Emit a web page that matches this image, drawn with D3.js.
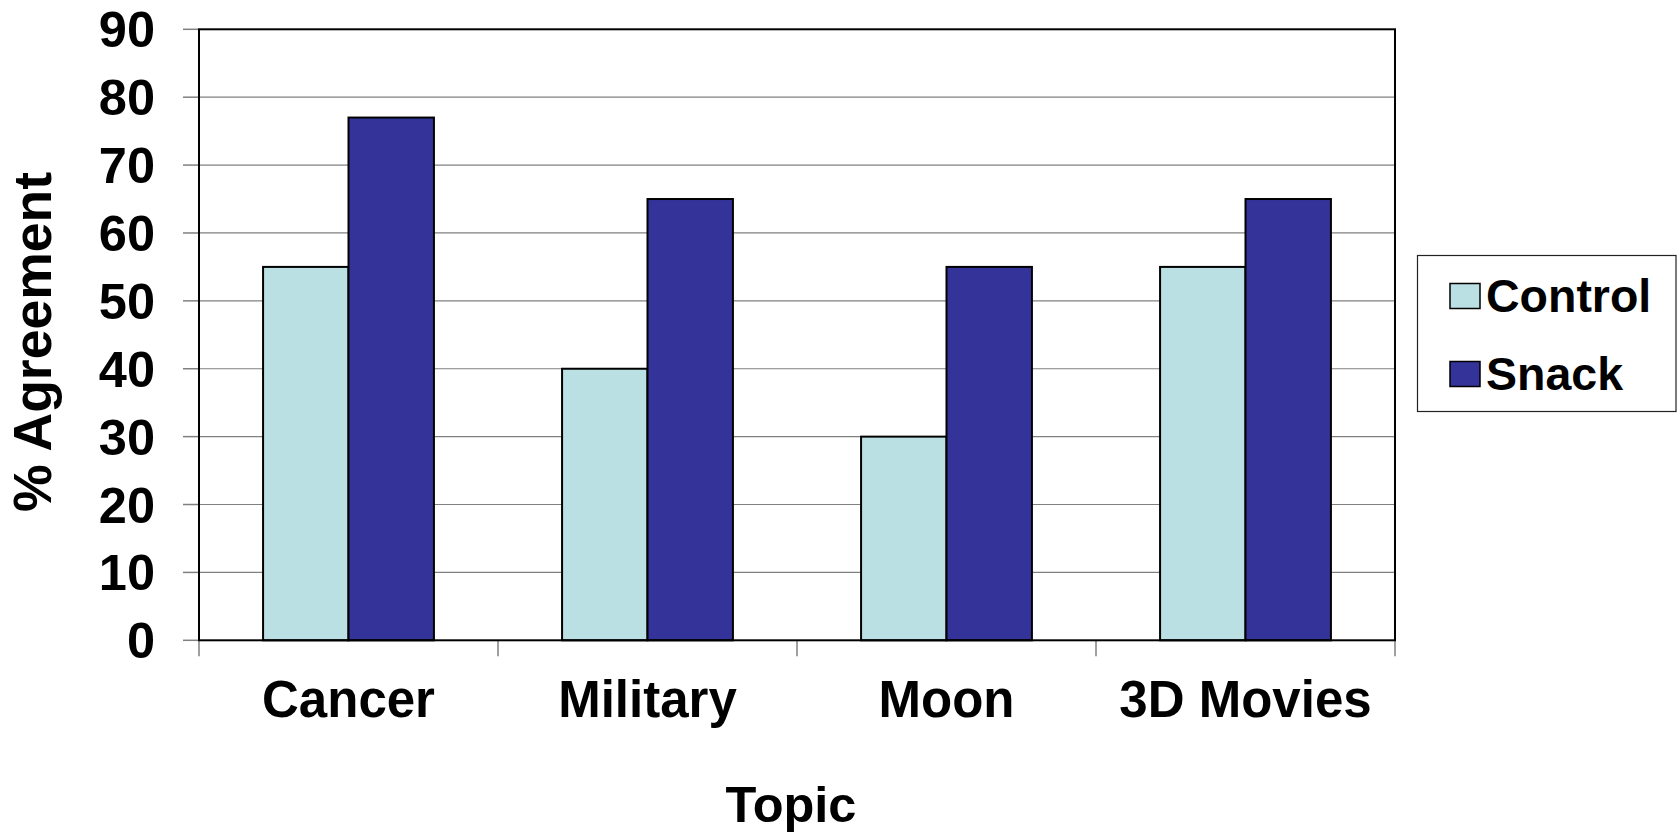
<!DOCTYPE html>
<html>
<head>
<meta charset="utf-8">
<script src="https://cdn.jsdelivr.net/npm/d3@7/dist/d3.min.js"></script>
<style>
  html, body { margin: 0; padding: 0; background: #fff; }
  svg { display: block; }
  text { font-family: "Liberation Sans", Arial, Helvetica, sans-serif; font-weight: bold; fill: #000; }
</style>
</head>
<body>
<svg id="chart" width="1678" height="832"></svg>
<script>
const categories = ["Cancer", "Military", "Moon", "3D Movies"];
const seriesNames = ["Control", "Snack"];
const controlValues = [55, 40, 30, 55];
const snackValues = [77, 65, 55, 65];
const yTicks = [0, 10, 20, 30, 40, 50, 60, 70, 80, 90];
const colors = { Control: "#BBE0E3", Snack: "#333399" };

const seriesValues = { Control: controlValues, Snack: snackValues };

const svg = d3.select("#chart");
const plot = { left: 199, right: 1395, top: 29.3, bottom: 640.3 };

const x0 = d3.scaleBand().domain(categories).range([plot.left, plot.right]).padding(0);
const bw = x0.bandwidth();
const gapOffset = bw * 0.75 / 3.5;
const x1 = d3.scaleBand().domain(seriesNames).range([gapOffset, bw - gapOffset]).padding(0);
const y = d3.scaleLinear().domain([0, 90]).range([plot.bottom, plot.top]);

// gridlines
svg.append("g").selectAll("line").data(yTicks.filter(d => d > 0 && d < 90)).join("line")
  .attr("x1", plot.left).attr("x2", plot.right)
  .attr("y1", d => y(d)).attr("y2", d => y(d))
  .attr("stroke", "#808080").attr("stroke-width", 1.2);

// y-axis tick marks
svg.append("g").selectAll("line").data(yTicks).join("line")
  .attr("x1", plot.left - 16).attr("x2", plot.left)
  .attr("y1", d => y(d)).attr("y2", d => y(d))
  .attr("stroke", "#808080").attr("stroke-width", 1.5);

// x-axis tick marks at category boundaries
const boundaries = categories.map(c => x0(c)).concat([plot.right]);
svg.append("g").selectAll("line").data(boundaries).join("line")
  .attr("x1", d => d).attr("x2", d => d)
  .attr("y1", plot.bottom).attr("y2", plot.bottom + 16)
  .attr("stroke", "#808080").attr("stroke-width", 1.5);

// bars
const groups = svg.append("g").selectAll("g").data(categories).join("g")
  .attr("transform", c => `translate(${x0(c)},0)`);
groups.selectAll("rect")
  .data((c, i) => seriesNames.map(s => ({ s, v: seriesValues[s][i] })))
  .join("rect")
  .attr("x", d => x1(d.s))
  .attr("width", x1.bandwidth())
  .attr("y", d => y(d.v))
  .attr("height", d => y(0) - y(d.v))
  .attr("fill", d => colors[d.s])
  .attr("stroke", "#000").attr("stroke-width", 2);

// plot frame
svg.append("rect")
  .attr("x", plot.left).attr("y", plot.top)
  .attr("width", plot.right - plot.left).attr("height", plot.bottom - plot.top)
  .attr("fill", "none").attr("stroke", "#000").attr("stroke-width", 2);

// y tick labels
svg.append("g").selectAll("text").data(yTicks).join("text")
  .attr("x", 155).attr("y", d => y(d) + 18)
  .attr("text-anchor", "end")
  .style("font-size", "50.5px")
  .text(d => d);

// category labels
svg.append("g").selectAll("text").data(categories).join("text")
  .attr("x", c => x0(c) + bw / 2).attr("y", 717)
  .attr("text-anchor", "middle")
  .style("font-size", "51px")
  .text(c => c);

// axis titles
svg.append("text")
  .attr("x", (plot.left + plot.right) / 2 - 6).attr("y", 822)
  .attr("text-anchor", "middle")
  .style("font-size", "50.5px")
  .text("Topic");

svg.append("text")
  .attr("transform", "translate(51,342) rotate(-90)")
  .attr("text-anchor", "middle")
  .style("font-size", "53.5px")
  .text("% Agreement");

// legend
const legend = svg.append("g");
legend.append("rect")
  .attr("x", 1417.5).attr("y", 255.5).attr("width", 258.5).attr("height", 156)
  .attr("fill", "#fff").attr("stroke", "#222").attr("stroke-width", 1.2);
const items = legend.selectAll("g").data(seriesNames).join("g")
  .attr("transform", (d, i) => `translate(0,${i * 78})`);
items.append("rect")
  .attr("x", 1450).attr("y", 283.5).attr("width", 30).attr("height", 25)
  .attr("fill", d => colors[d]).attr("stroke", "#000").attr("stroke-width", 1.5);
items.append("text")
  .attr("x", 1486).attr("y", 312)
  .style("font-size", "46.5px")
  .text(d => d);
</script>
</body>
</html>
